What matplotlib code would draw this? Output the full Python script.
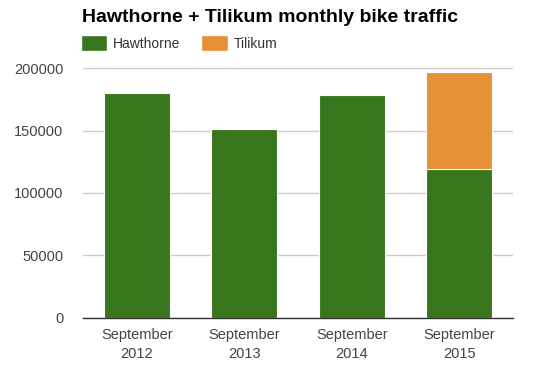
import matplotlib.pyplot as plt
from matplotlib.patches import Patch
import numpy as np

plt.rcParams['font.family'] = ['Liberation Sans', 'DejaVu Sans']

months = ['September\n2012', 'September\n2013', 'September\n2014', 'September\n2015']
hawthorne = [180000, 151200, 178400, 119200]
tilikum = [0, 0, 0, 77600]

green = '#38761d'
orange = '#e69138'

fig = plt.figure(figsize=(5.4, 3.68), dpi=100)
ax = fig.add_axes([0.1537, 0.1359, 0.7963, 0.6793])

x = np.arange(len(months))
ax.bar(x, hawthorne, width=0.61, color=green, edgecolor='white', linewidth=0.8, zorder=2)
t = ax.bar(x, tilikum, width=0.61, bottom=hawthorne, color=orange, edgecolor='white', linewidth=0.8, zorder=2)
for b, v in zip(t, tilikum):
    if v == 0:
        b.set_visible(False)

ax.set_xlim(-0.5, 3.5)
ax.set_ylim(0, 200000)
ax.set_yticks([0, 50000, 100000, 150000, 200000])
ax.set_xticks(x)
ax.set_xticklabels(months, linespacing=1.5)
ax.tick_params(axis='both', length=0, labelsize=10.5, colors='#444444')
ax.tick_params(axis='y', pad=14)
ax.tick_params(axis='x', pad=7)
ax.grid(axis='y', color='#cccccc', linewidth=1, zorder=0)
for s in ['top', 'right', 'left']:
    ax.spines[s].set_visible(False)
ax.spines['bottom'].set_color('#333333')
ax.spines['bottom'].set_linewidth(1)
ax.spines['bottom'].set_zorder(3)

fig.text(82 / 540, 1 - 18 / 368, 'Hawthorne + Tilikum monthly bike traffic',
         fontsize=14, fontweight='bold', color='#000000', va='center', ha='left')

handles = [Patch(facecolor=green, edgecolor='white', label='Hawthorne'),
           Patch(facecolor=orange, edgecolor='white', label='Tilikum')]
fig.legend(handles=handles, loc='center left', bbox_to_anchor=(68 / 540, 1 - 43 / 368), ncol=2,
           frameon=False, fontsize=10, handlelength=1.9, handleheight=1.4,
           columnspacing=1.5, handletextpad=0.45, labelcolor='#333333')

fig.savefig('out.png', dpi=100)
